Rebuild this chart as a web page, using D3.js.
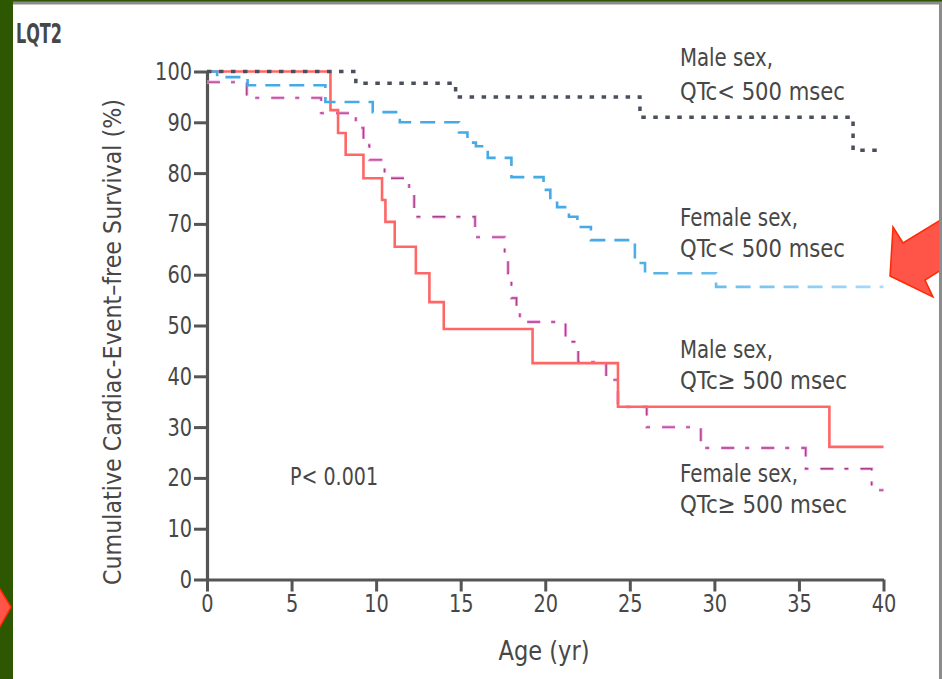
<!DOCTYPE html>
<html><head><meta charset="utf-8">
<script src="https://cdn.jsdelivr.net/npm/d3@7/dist/d3.min.js"></script>
<style>
html,body{margin:0;padding:0;background:#fff;}
svg{display:block;}
text{font-family:"Liberation Sans Narrow","Arial Narrow","DejaVu Sans Condensed",sans-serif;fill:#474747;}
</style></head><body>
<svg id="chart" width="942" height="679"></svg>
<script>
// ---- data ----
const title = "LQT2";
const xTickValues = [0, 5, 10, 15, 20, 25, 30, 35, 40];
const yTickValues = [0, 10, 20, 30, 40, 50, 60, 70, 80, 90, 100];
const xLabel = "Age (yr)";
const yLabel = "Cumulative Cardiac-Event\u2013free Survival (%)";
const pLabel = "P< 0.001";

// Male sex, QTc < 500 msec (dotted)
const maleLowAge = [0, 8.8, 14.7, 25.6, 38.2, 39.8];
const maleLowSurv = [100, 97.7, 95.0, 91.0, 84.5, 84.5];

// Female sex, QTc < 500 msec (dashed)
const femaleLowAge = [0, 0.6, 2.4, 7.0, 9.8, 11.4, 14.9, 15.4, 15.9, 16.6, 18.0, 19.9, 20.3, 20.7, 21.4, 21.9, 22.7, 25.3, 25.9, 30.1, 40];
const femaleLowSurv = [100, 98.9, 97.3, 94.0, 92.0, 90.0, 88.0, 86.0, 85.3, 83.0, 79.2, 76.7, 74.7, 73.3, 71.4, 69.4, 66.8, 62.3, 60.3, 57.6, 57.6];

// Male sex, QTc >= 500 msec (solid)
const maleHighAge = [0, 7.3, 7.75, 8.2, 9.25, 10.35, 10.55, 11.1, 12.35, 13.15, 14.0, 19.25, 24.3, 36.8, 40];
const maleHighSurv = [100, 92.4, 87.9, 83.6, 79.0, 74.7, 70.4, 65.5, 60.3, 54.6, 49.3, 42.6, 34.0, 26.1, 26.1];

// Female sex, QTc >= 500 msec (dash-dot)
const femaleHighAge = [0, 2.35, 6.75, 8.8, 9.25, 9.6, 10.5, 11.95, 12.25, 15.85, 17.6, 17.8, 18.0, 18.3, 18.5, 21.2, 21.95, 23.6, 24.3, 26.0, 29.2, 35.4, 39.3, 40];
const femaleHighSurv = [97.9, 94.8, 91.8, 88.9, 85.5, 82.6, 79.0, 75.7, 71.4, 67.4, 63.9, 60.3, 55.4, 53.0, 50.7, 46.8, 42.8, 39.3, 34.0, 30.0, 25.9, 21.8, 17.6, 17.6];

const seriesNames = [
  ["Male sex,", "QTc< 500 msec"],
  ["Female sex,", "QTc< 500 msec"],
  ["Male sex,", "QTc\u2265 500 msec"],
  ["Female sex,", "QTc\u2265 500 msec"]
];

// ---- drawing ----
const svg = d3.select("#chart");
const W = 942, H = 679;
const FONT = '"Liberation Sans Narrow","Arial Narrow","DejaVu Sans Condensed",sans-serif';

// slide background frame
svg.append("rect").attr("x", 0).attr("y", 0).attr("width", W).attr("height", H).attr("fill", "#2d5700");
svg.append("rect").attr("x", 13).attr("y", 1.5).attr("width", W - 13).attr("height", H).attr("fill", "#8c8c8c");
svg.append("rect").attr("x", 13).attr("y", 4.5).attr("width", 926).attr("height", H).attr("fill", "#ffffff");

const x = d3.scaleLinear().domain([0, 40]).range([207, 883.5]);
const y = d3.scaleLinear().domain([0, 100]).range([579.5, 71.5]);

const fs = 25;

// title
svg.append("text").attr("x", 16).attr("y", 43).attr("font-size", 27).attr("font-weight", "bold")
  .attr("fill", "#555").attr("textLength", 46).attr("lengthAdjust", "spacingAndGlyphs").text(title);

// axes
const axisColor = "#555555";
const gx = svg.append("g").attr("transform", `translate(0,${y(0)})`)
  .call(d3.axisBottom(x).tickValues(xTickValues).tickSize(12).tickPadding(3).tickSizeOuter(0));
const gy = svg.append("g").attr("transform", `translate(${x(0)},0)`)
  .call(d3.axisLeft(y).tickValues(yTickValues).tickSize(13).tickPadding(2).tickSizeOuter(0));
[gx, gy].forEach(g => {
  g.select(".domain").attr("stroke", axisColor).attr("stroke-width", 3.2);
  g.selectAll(".tick line").attr("stroke", axisColor).attr("stroke-width", 3);
  g.selectAll(".tick text").attr("font-size", fs).attr("fill", "#474747")
    .style("font-family", FONT)
    .attr("lengthAdjust", "spacingAndGlyphs")
    .attr("textLength", function () { return this.textContent.length * 12.3; });
});

// axis titles
svg.append("text").attr("x", 544).attr("y", 660).attr("text-anchor", "middle").attr("font-size", 26)
  .attr("textLength", 91).attr("lengthAdjust", "spacingAndGlyphs").text(xLabel);
svg.append("text").attr("transform", "translate(121,342) rotate(-90)").attr("text-anchor", "middle")
  .attr("font-size", 25).attr("textLength", 486).attr("lengthAdjust", "spacingAndGlyphs").text(yLabel);

// curves
const line = d3.line().x(d => x(d[0])).y(d => y(d[1])).curve(d3.curveStepAfter);
const zip = (a, b) => a.map((v, i) => [v, b[i]]);

const defs = svg.append("defs");
const grad = defs.append("linearGradient").attr("id", "blueGrad").attr("gradientUnits", "userSpaceOnUse")
  .attr("x1", x(24)).attr("x2", x(40)).attr("y1", 0).attr("y2", 0);
grad.append("stop").attr("offset", 0).attr("stop-color", "#45aae6");
grad.append("stop").attr("offset", 1).attr("stop-color", "#a9dcf6");

// female, QTc>=500 (dash-dot pink/magenta)
svg.append("path").attr("d", line(zip(femaleHighAge, femaleHighSurv)))
  .attr("fill", "none").attr("stroke", "#f2a8e2").attr("stroke-width", 3.2)
  .attr("stroke-dasharray", "13,11,4,12");
svg.append("path").attr("d", line(zip(femaleHighAge, femaleHighSurv)))
  .attr("fill", "none").attr("stroke", "#a8408a").attr("stroke-width", 1.4)
  .attr("stroke-dasharray", "13,11,4,12");

// male, QTc>=500 (solid red)
svg.append("path").attr("d", line(zip(maleHighAge, maleHighSurv)))
  .attr("fill", "none").attr("stroke", "#ff6666").attr("stroke-width", 2.6);

// female, QTc<500 (blue dashed)
svg.append("path").attr("d", line(zip(femaleLowAge, femaleLowSurv)))
  .attr("fill", "none").attr("stroke", "url(#blueGrad)").attr("stroke-width", 2.6)
  .attr("stroke-dasharray", "15,9");

// male, QTc<500 (dotted dark)
svg.append("path").attr("d", line(zip(maleLowAge, maleLowSurv)))
  .attr("fill", "none").attr("stroke", "#4a4f5c").attr("stroke-width", 3.5)
  .attr("stroke-dasharray", "4.5,7.5");

// series labels
const labelBase = [[66, 100], [226, 257], [358, 389], [482, 513]];
const labelLen = [[93, 165], [118, 165], [93, 167], [118, 167]];
seriesNames.forEach((pair, i) => {
  pair.forEach((t, j) => {
    svg.append("text").attr("x", 680).attr("y", labelBase[i][j]).attr("font-size", fs)
      .attr("textLength", labelLen[i][j]).attr("lengthAdjust", "spacingAndGlyphs").text(t);
  });
});

// p value
svg.append("text").attr("x", 290).attr("y", 485).attr("font-size", fs)
  .attr("textLength", 88).attr("lengthAdjust", "spacingAndGlyphs").text(pLabel);

// red arrows (slide annotation)
svg.append("polygon")
  .attr("points", "890,276 893,227 903,243 944,218 944,268 925,280 933,297")
  .attr("fill", "#ff5448").attr("stroke", "#ff2a00").attr("stroke-width", 1.5).attr("stroke-linejoin", "miter");
svg.append("rect").attr("x", 939).attr("y", 4.5).attr("width", 3).attr("height", H).attr("fill", "#8c8c8c");
svg.append("polygon")
  .attr("points", "-2,586 11,607 -2,630")
  .attr("fill", "#ff5448").attr("stroke", "#ff2a00").attr("stroke-width", 1.5);
</script>
</body></html>
